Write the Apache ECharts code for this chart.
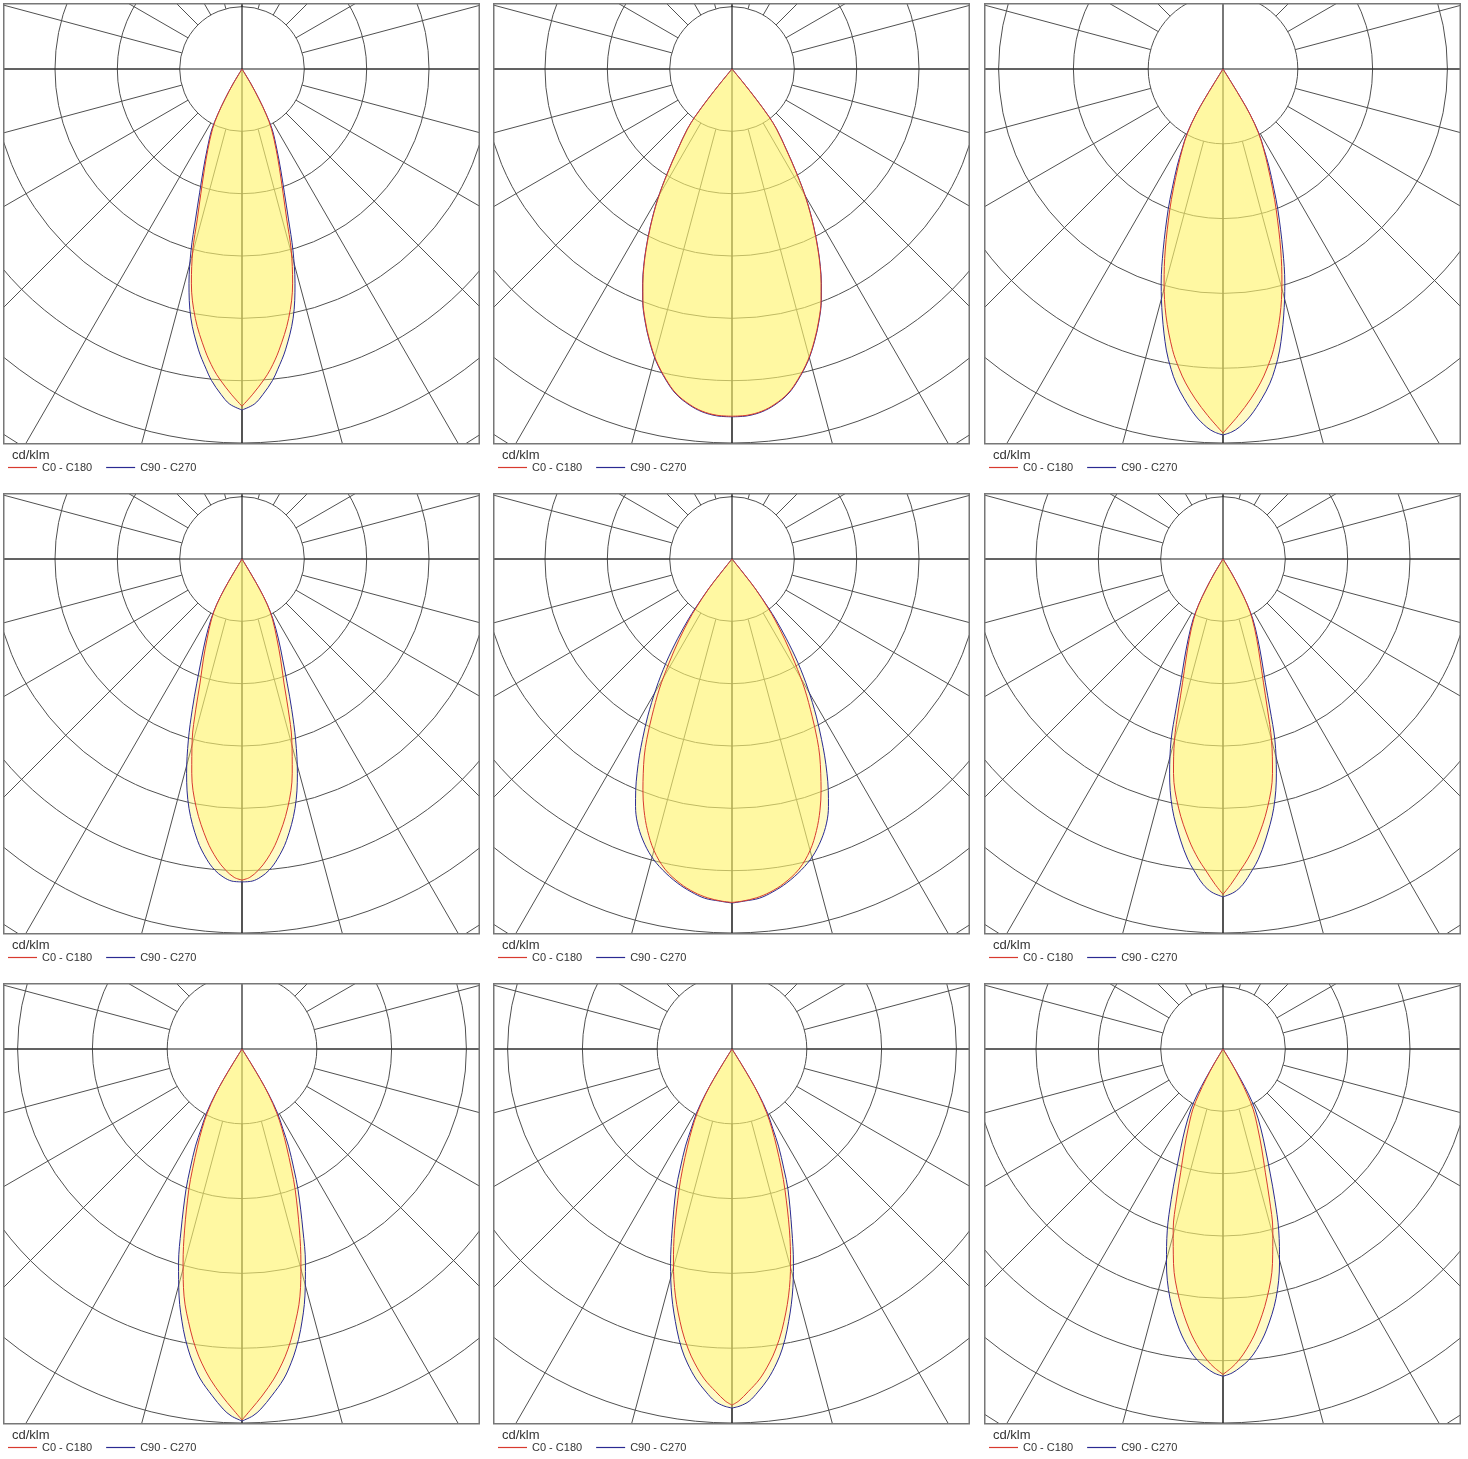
<!DOCTYPE html>
<html>
<head>
<meta charset="utf-8">
<title>Light distribution curves</title>
<script src="https://cdn.jsdelivr.net/npm/echarts@6/dist/echarts.min.js"></script>
<style>
  html, body { margin: 0; padding: 0; background: #fff; }
  .panel { position: absolute; width: 477px; height: 484px; }
</style>
</head>
<body>
<div class="panel" id="p1" style="left:3px;top:3px"></div>
<div class="panel" id="p2" style="left:493px;top:3px"></div>
<div class="panel" id="p3" style="left:984px;top:3px"></div>
<div class="panel" id="p4" style="left:3px;top:493px"></div>
<div class="panel" id="p5" style="left:493px;top:493px"></div>
<div class="panel" id="p6" style="left:984px;top:493px"></div>
<div class="panel" id="p7" style="left:3px;top:983px"></div>
<div class="panel" id="p8" style="left:493px;top:983px"></div>
<div class="panel" id="p9" style="left:984px;top:983px"></div>
<script>
// [gamma in degrees from nadir, intensity in cd/klm], from nadir up to where the curve closes
const p1C0 = [[0, 541], [1.9, 522], [4, 500], [5.4, 484], [7.5, 455], [10.6, 407], [13.3, 353], [15.2, 301], [16.6, 251], [18.3, 210], [20.6, 171], [23, 140], [26.2, 107], [28.1, 82], [29.5, 55], [31, 28], [32.5, 0]];
const p1C90 = [[0, 547], [2.1, 538], [3.7, 523], [5.6, 502], [6.8, 485], [8.8, 456], [11.6, 408], [13.9, 354], [15.7, 302], [17.2, 252], [18.9, 210], [21.1, 172], [23.5, 140], [26.6, 108], [28.1, 82], [29.5, 55], [31, 28], [32.5, 0]];
const p2C0 = [[0, 557], [2.5, 556], [5, 551], [7.3, 542], [9.8, 528], [12, 509], [14.6, 483], [16.9, 455], [19.1, 426], [21.1, 397], [22.6, 372], [24.1, 346], [25.5, 320], [27.4, 284], [29.7, 240], [31.8, 196], [34, 155], [36.6, 120], [37.8, 96], [38.7, 62], [39.4, 31], [41, 0]];
const p2C90 = [[0, 558], [2.5, 557], [5, 552], [7.3, 543], [9.8, 529], [12, 510], [14.6, 484], [16.9, 456], [19.1, 427], [21.1, 398], [22.6, 373], [24.1, 347], [25.5, 321], [27.4, 285], [29.7, 241], [31.8, 197], [34, 156], [36.6, 120], [37.8, 96], [38.7, 62], [39.4, 31], [41, 0]];
const p3C0 = [[0, 730], [2.5, 696], [4.8, 664], [6.8, 634], [8.3, 608], [10.2, 572], [13, 508], [15.4, 445], [17.7, 381], [20.7, 302], [22.5, 260], [24.8, 214], [26.9, 180], [29, 147], [30.8, 105], [31.5, 71], [31.8, 35], [33, 0]];
const p3C90 = [[0, 734], [1.4, 728], [2.6, 719], [4.5, 698], [6.7, 666], [8.5, 637], [9.8, 611], [11.4, 575], [13.8, 510], [16.1, 447], [18.3, 382], [21.3, 303], [23, 261], [25.3, 215], [27.1, 180], [29.2, 147], [30.8, 105], [31.5, 71], [31.8, 35], [33, 0]];
const p4C0 = [[0, 515], [1.4, 511], [3, 500], [4.8, 483], [7.1, 455], [10.4, 406], [13.2, 353], [15.4, 301], [17.1, 252], [18.7, 210], [21.1, 172], [23.6, 140], [26.9, 108], [29.1, 83], [30.3, 56], [31, 28], [32.5, 0]];
const p4C90 = [[0, 518], [1.8, 517], [3.4, 511], [5, 501], [6.7, 485], [9, 457], [12, 409], [14.5, 355], [16.5, 303], [18.3, 254], [20, 212], [22.1, 173], [24.5, 141], [27.3, 108], [29.1, 83], [30.3, 56], [31, 28], [32.5, 0]];
const p5C0 = [[0, 551], [1.8, 549], [4.1, 545], [6.5, 538], [9.1, 527], [12.2, 509], [15, 484], [17.3, 456], [19.3, 427], [21.1, 397], [22.5, 372], [24, 346], [25.3, 320], [27, 283], [29.2, 239], [31.2, 195], [33.3, 154], [35.3, 118], [36.3, 98], [38.1, 61], [38.7, 31], [41, 0]];
const p5C90 = [[0, 552], [2.2, 549], [4.6, 546], [7, 538], [9.6, 527], [12.6, 511], [15.2, 494], [17.6, 473], [19.7, 450], [21.3, 426], [22.6, 402], [23.9, 376], [25.2, 349], [26.4, 323], [28.2, 286], [30.3, 242], [32.4, 198], [34.3, 155], [35.9, 119], [36.7, 98], [38.1, 61], [38.7, 31], [41, 0]];
const p6C0 = [[0, 538], [1.4, 522], [3.2, 500], [4.7, 483], [6.9, 454], [10.1, 406], [13, 353], [15, 301], [16.5, 251], [18.1, 209], [20.3, 171], [22.9, 139], [26, 107], [28.1, 82], [29.5, 55], [31, 28], [32.5, 0]];
const p6C90 = [[0, 542], [1.9, 535], [3.5, 523], [5.4, 501], [6.7, 485], [8.6, 456], [11.5, 408], [14, 354], [16, 302], [17.4, 252], [18.9, 210], [21.1, 172], [23.5, 140], [26.4, 108], [28.1, 82], [29.5, 55], [31, 28], [32.5, 0]];
const p7C0 = [[0, 744], [1.5, 722], [3.3, 697], [5.5, 665], [7.3, 635], [8.7, 609], [10.4, 573], [13.2, 509], [15.4, 445], [17.6, 381], [20.7, 302], [22.4, 260], [24.6, 214], [26.6, 179], [28.5, 146], [30.3, 105], [31.3, 70], [31.8, 35], [33, 0]];
const p7C90 = [[0, 746], [1.7, 736], [3, 723], [4.9, 698], [7.2, 667], [8.9, 637], [10.2, 611], [11.8, 575], [14.3, 511], [16.5, 448], [18.6, 383], [21.7, 304], [23.4, 262], [25.6, 216], [27.1, 180], [29, 147], [30.5, 105], [31.3, 70], [31.8, 35], [33, 0]];
const p8C0 = [[0, 714], [1.1, 706], [2.7, 688], [4.8, 664], [6.8, 634], [8.3, 608], [10.1, 572], [12.9, 508], [15.3, 445], [17.6, 381], [20.6, 302], [22.4, 260], [24.6, 214], [26.6, 179], [28.5, 146], [30.3, 105], [31.3, 70], [31.8, 35], [33, 0]];
const p8C90 = [[0, 720], [1.3, 716], [2.8, 707], [4.3, 690], [6.2, 666], [8.1, 636], [9.5, 610], [11.1, 574], [13.7, 510], [16, 447], [18.3, 382], [21.7, 304], [23.4, 262], [25.6, 216], [27.1, 180], [29, 147], [30.5, 105], [31.3, 70], [31.8, 35], [33, 0]];
const p9C0 = [[0, 522], [1.6, 511], [2.9, 500], [4.5, 483], [6.8, 454], [10, 406], [13, 353], [15.4, 301], [17.2, 252], [18.9, 210], [21.2, 172], [23.6, 140], [26.6, 108], [28.1, 82], [29.5, 55], [31, 28], [32.5, 0]];
const p9C90 = [[0, 525], [1.6, 520], [3.2, 511], [4.7, 501], [6.4, 485], [8.8, 456], [12, 409], [14.8, 355], [17.1, 304], [19, 255], [20.8, 213], [23, 174], [25.4, 142], [28.1, 109], [29.5, 83], [30.3, 56], [31, 28], [32.5, 0]];

// ring spacing and value at the bottom edge of each diagram
const ringStep = [100, 100, 150, 100, 100, 100, 150, 150, 100];
const scaleMax = [600, 600, 750, 600, 600, 600, 750, 750, 600];

const legendNames = ['C0 - C180', 'C90 - C270'];

const curvesC0 = [p1C0, p2C0, p3C0, p4C0, p5C0, p6C0, p7C0, p8C0, p9C0];
const curvesC90 = [p1C90, p2C90, p3C90, p4C90, p5C90, p6C90, p7C90, p8C90, p9C90];

const RED = '#d83a2e';
const BLUE = '#2a2a92';
const FILL = 'rgb(255, 246, 110)';
const RINGS = 8;        // enough rings to reach the corners
const BOX_W = 477, BOX_H = 440;
const CENTER = [239, 66];

// one half of a plane: side 1 = C0 / C90 (right), side -1 = C180 / C270 (left)
function halfPoints(pairs, side) {
  return pairs.map(p => [p[1], side > 0 ? 360 - p[0] : p[0]]);
}

function curveSeries(name, color, pairs, side, z) {
  return {
    name: name,
    type: 'line',
    coordinateSystem: 'polar',
    polarIndex: 1,
    data: halfPoints(pairs, side),
    smooth: 0.35,
    symbol: 'none',
    silent: true,
    itemStyle: { color: color },
    lineStyle: { color: color, width: 1 },
    areaStyle: { color: FILL, opacity: 0.4 },
    z: z
  };
}

function axisSeries(data) {
  return {
    type: 'line',
    coordinateSystem: 'polar',
    polarIndex: 1,
    data: data,
    symbol: 'none',
    silent: true,
    lineStyle: { color: '#1e1e1e', width: 1.2 },
    z: 2
  };
}

function renderPanel(idx) {
  const chart = echarts.init(document.getElementById('p' + (idx + 1)));
  const step = ringStep[idx];
  const ringPx = (BOX_H - CENTER[1]) * step / scaleMax[idx];
  const rMax = step * RINGS;
  const font = 'Liberation Sans, Arial, sans-serif';

  const option = {
    animation: false,
    title: {
      text: 'cd/klm',
      left: 9,
      top: 446,
      padding: 0,
      z: 60,
      textStyle: { fontSize: 13, fontWeight: 'normal', color: '#333', fontFamily: font }
    },
    legend: {
      data: [
        { name: legendNames[0], itemStyle: { color: RED, borderColor: RED, borderWidth: 0 } },
        { name: legendNames[1], itemStyle: { color: BLUE, borderColor: BLUE, borderWidth: 0 } }
      ],
      left: 5,
      top: 459,
      padding: 0,
      icon: 'rect',
      itemWidth: 29,
      itemHeight: 1.2,
      itemGap: 14,
      z: 60,
      textStyle: { fontSize: 11, color: '#333', fontFamily: font }
    },
    polar: [
      { center: CENTER, radius: [ringPx, ringPx * RINGS] },
      { center: CENTER, radius: ringPx * RINGS }
    ],
    angleAxis: [
      {
        polarIndex: 0, type: 'value', min: 0, max: 360, interval: 15, startAngle: -90,
        axisLine: { show: false }, axisTick: { show: false }, axisLabel: { show: false },
        splitLine: { lineStyle: { color: '#505050', width: 1 } }
      },
      { polarIndex: 1, type: 'value', min: 0, max: 360, startAngle: -90, show: false }
    ],
    radiusAxis: [
      {
        polarIndex: 0, type: 'value', min: step, max: rMax, interval: step,
        axisLine: { show: false }, axisTick: { show: false }, axisLabel: { show: false },
        splitLine: { lineStyle: { color: '#505050', width: 1 } }
      },
      { polarIndex: 1, type: 'value', min: 0, max: rMax, show: false }
    ],
    graphic: [
      // blank strip under the frame, keeps the grid inside the box
      { type: 'rect', shape: { x: 0, y: BOX_H + 1, width: BOX_W, height: 60 }, style: { fill: '#fff' }, z: 50, silent: true },
      { type: 'rect', shape: { x: 0.75, y: 0.75, width: BOX_W - 1.5, height: BOX_H }, style: { fill: 'none', stroke: '#777', lineWidth: 1.5 }, z: 51, silent: true }
    ],
    series: [
      // main axes through the lamp centre
      axisSeries([[rMax, 90], [0, 0], [rMax, 270]]),
      axisSeries([[rMax, 180], [0, 0], [rMax, 0]]),
      curveSeries(legendNames[1], BLUE, curvesC90[idx], 1, 3),
      curveSeries(legendNames[1], BLUE, curvesC90[idx], -1, 3),
      curveSeries(legendNames[0], RED, curvesC0[idx], 1, 4),
      curveSeries(legendNames[0], RED, curvesC0[idx], -1, 4)
    ]
  };
  chart.setOption(option);
}

for (let i = 0; i < 9; i++) renderPanel(i);
</script>
</body>
</html>
